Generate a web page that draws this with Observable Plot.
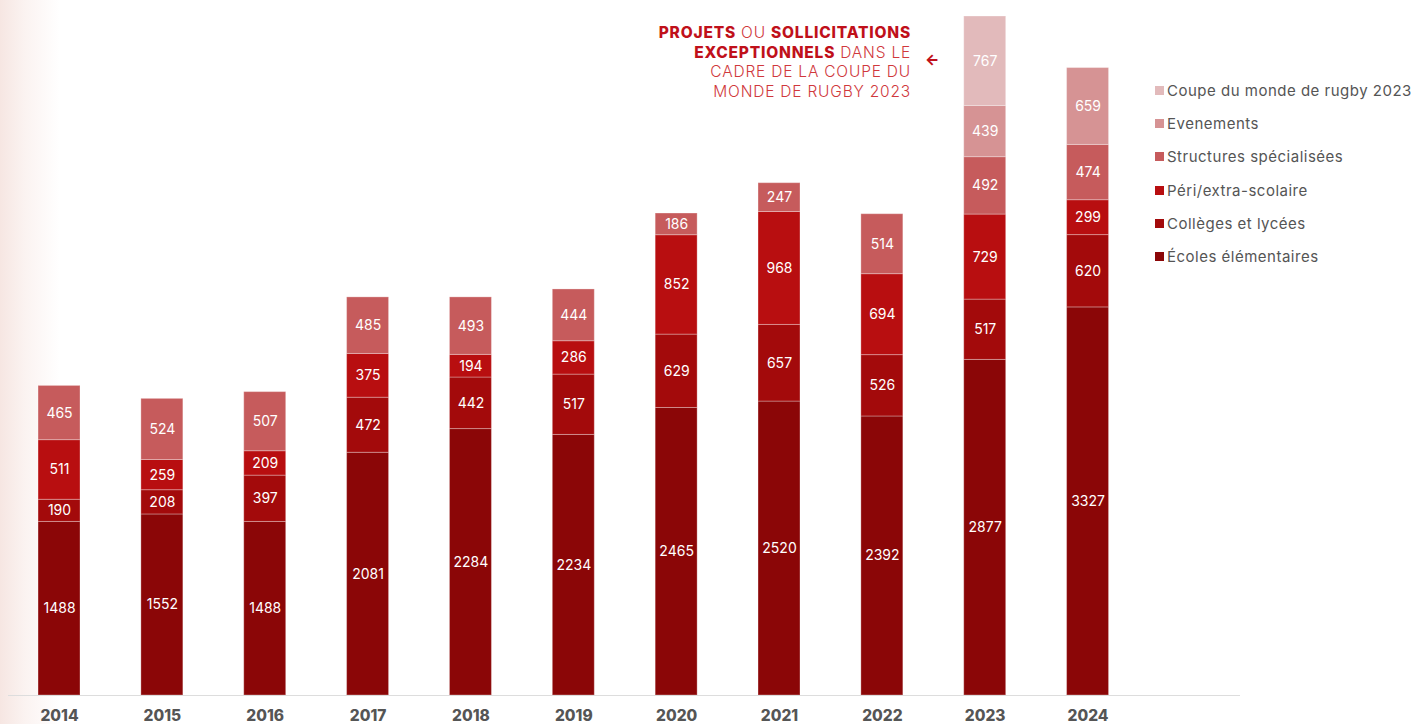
<!DOCTYPE html>
<html><head><meta charset="utf-8">
<script src="https://cdn.jsdelivr.net/npm/d3@7"></script>
<script src="https://cdn.jsdelivr.net/npm/@observablehq/plot@0.6"></script>
<style>
html,body{margin:0;padding:0}
body{width:1413px;height:724px;overflow:hidden;position:relative;font-family:Inter,"Noto Sans",sans-serif;background:linear-gradient(to right,#f6e6e2 0px,#fbf3f1 25px,#ffffff 60px)}
#chart{position:absolute;left:0;top:0}
.note{position:absolute;right:502px;top:23px;text-align:right;color:#d0383c;font-size:15.5px;line-height:19.6px;font-weight:300;letter-spacing:0.8px;white-space:nowrap}
.note b{font-weight:800;color:#c0101a}
.arrow{position:absolute;left:925px;top:50px;color:#c0101a;font-size:15px;font-weight:800}
.legend{position:absolute;left:1155px;top:81px;font-size:15px;color:#555;letter-spacing:0.5px}
.legend div{height:33.2px;display:flex;align-items:flex-start;white-space:nowrap}
.legend span.sw{display:inline-block;width:9px;height:9px;margin-right:3px;margin-top:5px}
</style>
</head><body>
<div id="chart"></div>
<div class="note"><b>PROJETS</b> OU <b>SOLLICITATIONS</b><br><b>EXCEPTIONNELS</b> DANS LE<br>CADRE DE LA COUPE DU<br>MONDE DE RUGBY 2023</div>
<div class="arrow">&#8592;</div>
<div class="legend" id="legend"></div>
<script>
const years = ["2014","2015","2016","2017","2018","2019","2020","2021","2022","2023","2024"];
const categories = ["Écoles élémentaires","Collèges et lycées","Péri/extra-scolaire","Structures spécialisées","Evenements","Coupe du monde de rugby 2023"];
const colors = ["#8b0607","#a30a0b","#b80e10","#c65b5c","#d69394","#e2babb"];
const ecoles      = [1488,1552,1488,2081,2284,2234,2465,2520,2392,2877,3327];
const colleges    = [190,208,397,472,442,517,629,657,526,517,620];
const peri        = [511,259,209,375,194,286,852,968,694,729,299];
const structures  = [465,524,507,485,493,444,186,247,514,492,474];
const evenements  = [null,null,null,null,null,null,null,null,null,439,659];
const coupe       = [null,null,null,null,null,null,null,null,null,767,null];
const series = [ecoles,colleges,peri,structures,evenements,coupe];

const data = [];
categories.forEach((c,i)=>series[i].forEach((v,j)=>{ if(v!=null) data.push({year:years[j],cat:c,value:v}); }));
const maxTotal = d3.max(years.map((y,j)=>d3.sum(series,s=>s[j]||0)));

const chart = Plot.plot({
  width:1413, height:724,
  marginTop:16, marginBottom:29, marginLeft:8, marginRight:173,
  style:{background:"transparent", fontFamily:"Inter, sans-serif"},
  x:{domain:years, paddingInner:0.592, paddingOuter:0.785, align:0.186, round:false, label:null},
  y:{domain:[0,maxTotal], axis:null},
  color:{domain:categories, range:colors},
  marks:[
    Plot.barY(data,{x:"year",y:"value",fill:"cat",stroke:"#fff",strokeOpacity:0.3,strokeWidth:1}),
    Plot.text(data,Plot.stackY({x:"year",y:"value",text:d=>String(d.value),fill:"#fff",fontSize:14,fontWeight:400})),
    Plot.ruleY([0],{stroke:"#dddddd",strokeWidth:1.2}),
    Plot.axisX({tickSize:0,tickPadding:14,fontSize:15.5,fontWeight:800,color:"#555",label:null})
  ]
});
document.getElementById("chart").appendChild(chart);

const legend = document.getElementById("legend");
for (let i = categories.length-1; i>=0; i--) {
  const row = document.createElement("div");
  const sw = document.createElement("span");
  sw.className="sw"; sw.style.background=colors[i];
  row.appendChild(sw);
  row.appendChild(document.createTextNode(categories[i]));
  legend.appendChild(row);
}
</script>
</body></html>
